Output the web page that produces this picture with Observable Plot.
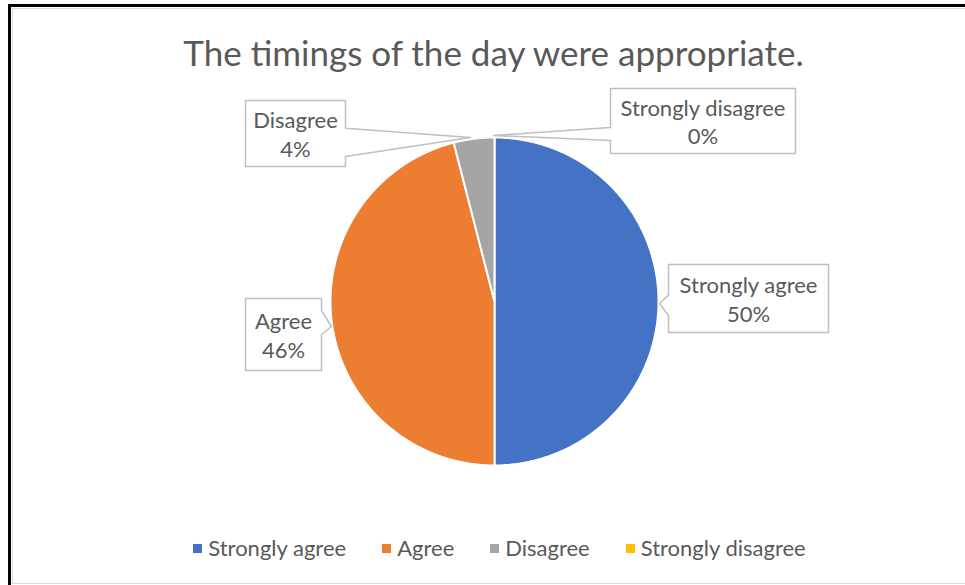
<!DOCTYPE html>
<html><head><meta charset="utf-8">
<script src="https://cdn.jsdelivr.net/npm/d3@7"></script>
<script src="https://cdn.jsdelivr.net/npm/@observablehq/plot@0.6"></script>
<style>
body{margin:0;background:#fff;}
#root{position:relative;width:965px;height:585px;overflow:hidden;font-family:Lato,"Open Sans",sans-serif;background:#fff;}
#frame{position:absolute;left:8px;top:4px;width:1000px;height:620px;border-left:3px solid #000;border-top:3px solid #000;}
#inner{position:absolute;left:12px;top:8px;width:1000px;height:574px;border-left:1px solid #d9d9d9;border-top:1px solid #d9d9d9;border-bottom:1px solid #d9d9d9;}
#title{position:absolute;left:0;width:965px;top:35px;text-align:center;font-size:35px;line-height:35px;color:#595959;padding-left:22px;box-sizing:border-box;}
#chart{position:absolute;left:0;top:90px;}
#legend{position:absolute;left:0;top:536px;width:965px;display:flex;justify-content:center;align-items:center;font-size:22px;line-height:24px;color:#595959;padding-left:34px;box-sizing:border-box;}
#legend .item{display:flex;align-items:center;margin:0 18px;}
#legend .sw{width:9px;height:9px;margin-right:6px;display:inline-block;}
</style>
</head><body>
<div id="root">
  <div id="frame"></div>
  <div id="inner"></div>
  <div id="title"></div>
  <div id="chart"></div>
  <div id="legend"></div>
</div>
<script>
// ---- data ----
const title = "The timings of the day were appropriate.";
const categories = ["Strongly agree", "Agree", "Disagree", "Strongly disagree"];
const values = [50, 46, 4, 0];
const percentLabels = ["50%", "46%", "4%", "0%"];
const colors = ["#4472C4", "#ED7D31", "#A5A5A5", "#FFC000"];

// ---- layout (page pixel coordinates) ----
const pie = {cx: 494, cy: 301, r: 164};
const callouts = [
  {i: 0, x0: 668, x1: 828, y0: 264, y1: 332, side: "left",  b0: 0.45, b1: 0.75, tip: [659, 303]},
  {i: 1, x0: 245, x1: 321, y0: 298, y1: 370, side: "right", b0: 0.17, b1: 0.50, tip: [331, 326]},
  {i: 2, x0: 245, x1: 345, y0: 100, y1: 166, side: "right", b0: 0.42, b1: 0.85, tip: [470, 137]},
  {i: 3, x0: 610, x1: 795, y0: 88,  y1: 153, side: "left",  b0: 0.60, b1: 0.80, tip: [493, 135]}
];

document.getElementById("title").textContent = title;

// pie geometry from data
const arcs = d3.pie().sort(null).value(d => d)(values);
const slicePolys = arcs.map((a, i) => {
  const pts = [{x: pie.cx, y: pie.cy}];
  const n = Math.max(2, Math.ceil((a.endAngle - a.startAngle) / (Math.PI / 180)));
  for (let k = 0; k <= n; k++) {
    const t = a.startAngle + (a.endAngle - a.startAngle) * k / n;
    pts.push({x: pie.cx + pie.r * Math.sin(t), y: pie.cy - pie.r * Math.cos(t)});
  }
  pts.push({x: pie.cx, y: pie.cy});
  return {i, pts, empty: a.endAngle - a.startAngle === 0};
});

function calloutPoly(c) {
  const h = c.y1 - c.y0;
  const pts = [];
  pts.push([c.x0, c.y0], [c.x1, c.y0]);
  if (c.side === "right") {
    pts.push([c.x1, c.y0 + c.b0 * h], c.tip, [c.x1, c.y0 + c.b1 * h]);
  }
  pts.push([c.x1, c.y1], [c.x0, c.y1]);
  if (c.side === "left") {
    pts.push([c.x0, c.y0 + c.b1 * h], c.tip, [c.x0, c.y0 + c.b0 * h]);
  }
  pts.push([c.x0, c.y0]);
  return pts.map(([x, y]) => ({x, y}));
}

const marks = [];
slicePolys.filter(s => !s.empty).forEach(s => {
  marks.push(Plot.line(s.pts, {x: "x", y: "y", fill: colors[s.i], stroke: "white", strokeWidth: 2, strokeLinejoin: "round"}));
});
callouts.forEach(c => {
  marks.push(Plot.line(calloutPoly(c), {x: "x", y: "y", fill: "white", stroke: "#bfbfbf", strokeWidth: 1.5}));
});
marks.push(Plot.text(callouts, {
  x: c => (c.x0 + c.x1) / 2,
  y: c => (c.y0 + c.y1) / 2,
  text: c => categories[c.i] + "\n" + percentLabels[c.i],
  fontSize: 22, fill: "#595959", lineHeight: 1.3
}));

const plot = Plot.plot({
  width: 965, height: 440, margin: 0,
  x: {domain: [0, 965], range: [0, 965], axis: null},
  y: {domain: [90, 530], range: [0, 440], axis: null},
  style: {fontFamily: "Lato, 'Open Sans', sans-serif", background: "transparent", overflow: "visible"},
  marks
});
document.getElementById("chart").appendChild(plot);

// legend
const legend = document.getElementById("legend");
categories.forEach((c, i) => {
  const it = document.createElement("div");
  it.className = "item";
  const sw = document.createElement("span");
  sw.className = "sw"; sw.style.background = colors[i];
  const tx = document.createElement("span");
  tx.textContent = c;
  it.appendChild(sw); it.appendChild(tx);
  legend.appendChild(it);
});
</script>
</body></html>
